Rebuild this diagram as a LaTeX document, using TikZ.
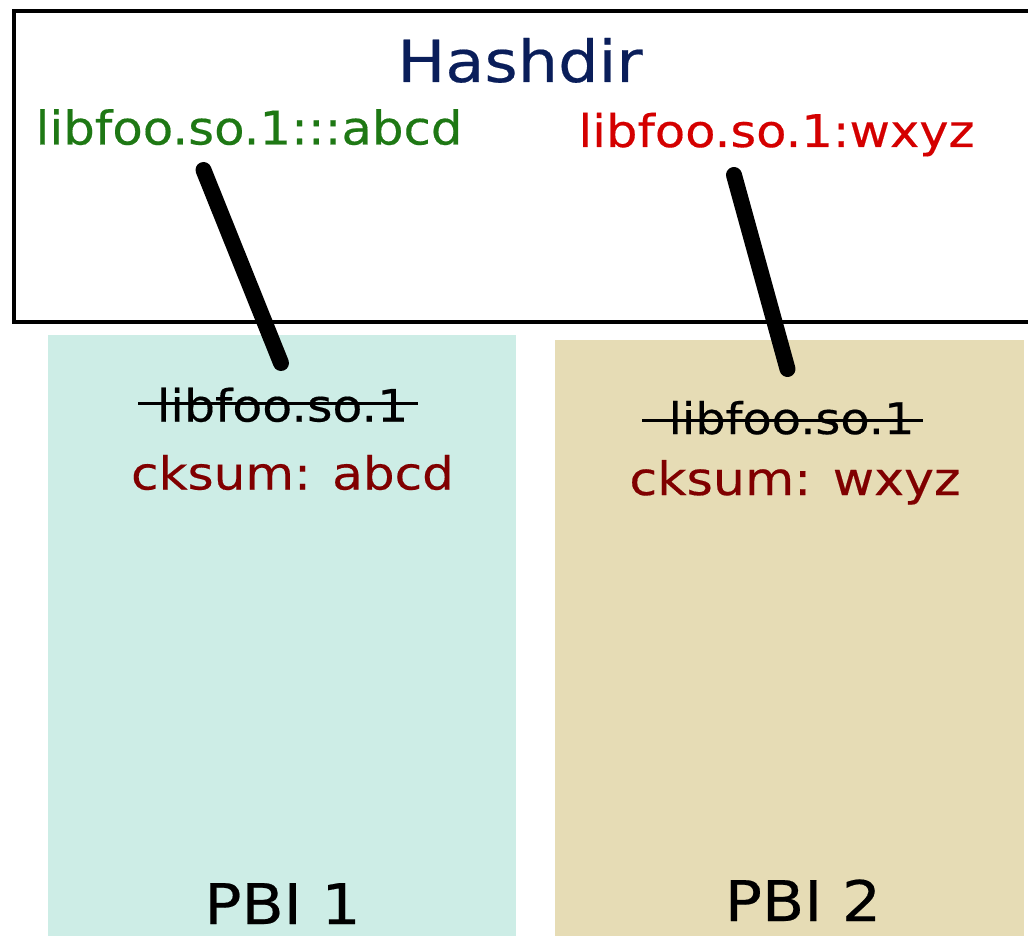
\documentclass[tikz,border=0pt]{standalone}
\usepackage{fontspec}
\newfontfamily\dv[FakeStretch=1.1,FakeBold=0.35]{DejaVu Sans}
\newfontfamily\dvn[FakeStretch=1.07,FakeBold=0.35]{DejaVu Sans}
\definecolor{navy}{RGB}{10,30,90}
\definecolor{lgreen}{RGB}{30,120,20}
\definecolor{lred}{RGB}{212,0,0}
\definecolor{dred}{RGB}{128,0,0}
\definecolor{cyanbox}{RGB}{205,237,230}
\definecolor{tanbox}{RGB}{230,220,181}
\tikzset{
  txt/.style={inner sep=0pt, anchor=base},
  fs/.style={font=\dv\fontsize{#1}{#1}\selectfont},
  fsn/.style={font=\dvn\fontsize{#1}{#1}\selectfont},
  link/.style={line width=16pt, line cap=round, black},
  strike/.style={line width=3.5pt, black},
}
\begin{document}
\begin{tikzpicture}[x=1pt,y=-1pt]
\useasboundingbox (0,0) rectangle (1028,936);
% boxes
\fill[cyanbox] (48,335) rectangle (516,945);
\fill[tanbox] (555,340) rectangle (1024,945);
\draw[line width=4pt] (14,11) rectangle (1045,322);
% texts
\node[txt, fs=58, text=navy] (hash) at (520,82) {Hashdir};
\node[txt, fsn=46.5, text=lgreen] (g) at (249,144.5) {libfoo.so.1:::abcd};
\node[txt, fs=45, text=lred] (r) at (776.5,147) {libfoo.so.1:wxyz};
\node[txt, fs=44.5] (s1) at (282.5,421.5) {libfoo.so.1};
\node[txt, fs=45.5, text=dred] (c1) at (292.5,489.5) {cksum: abcd};
\node[txt, fs=43.5] (s2) at (791.5,434) {libfoo.so.1};
\node[txt, fs=46, text=dred] (c2) at (795,495) {cksum: wxyz};
\node[txt, fs=56] (p1) at (282.5,924) {PBI 1};
\node[txt, fs=56] (p2) at (803,921) {PBI 2};
% strike-through lines
\coordinate (s1a) at (138,403.3);
\coordinate (s1b) at (418,403.3);
\coordinate (s2a) at (642,420.5);
\coordinate (s2b) at (923,420.5);
\draw[strike] (s1a) -- (s1b);
\draw[strike] (s2a) -- (s2b);
% links
\coordinate (l1a) at (203.5,170);
\coordinate (l1b) at (281,363);
\coordinate (l2a) at (734,175);
\coordinate (l2b) at (787.5,369);
\draw[link] (l1a) -- (l1b);
\draw[link] (l2a) -- (l2b);
\end{tikzpicture}
\end{document}
